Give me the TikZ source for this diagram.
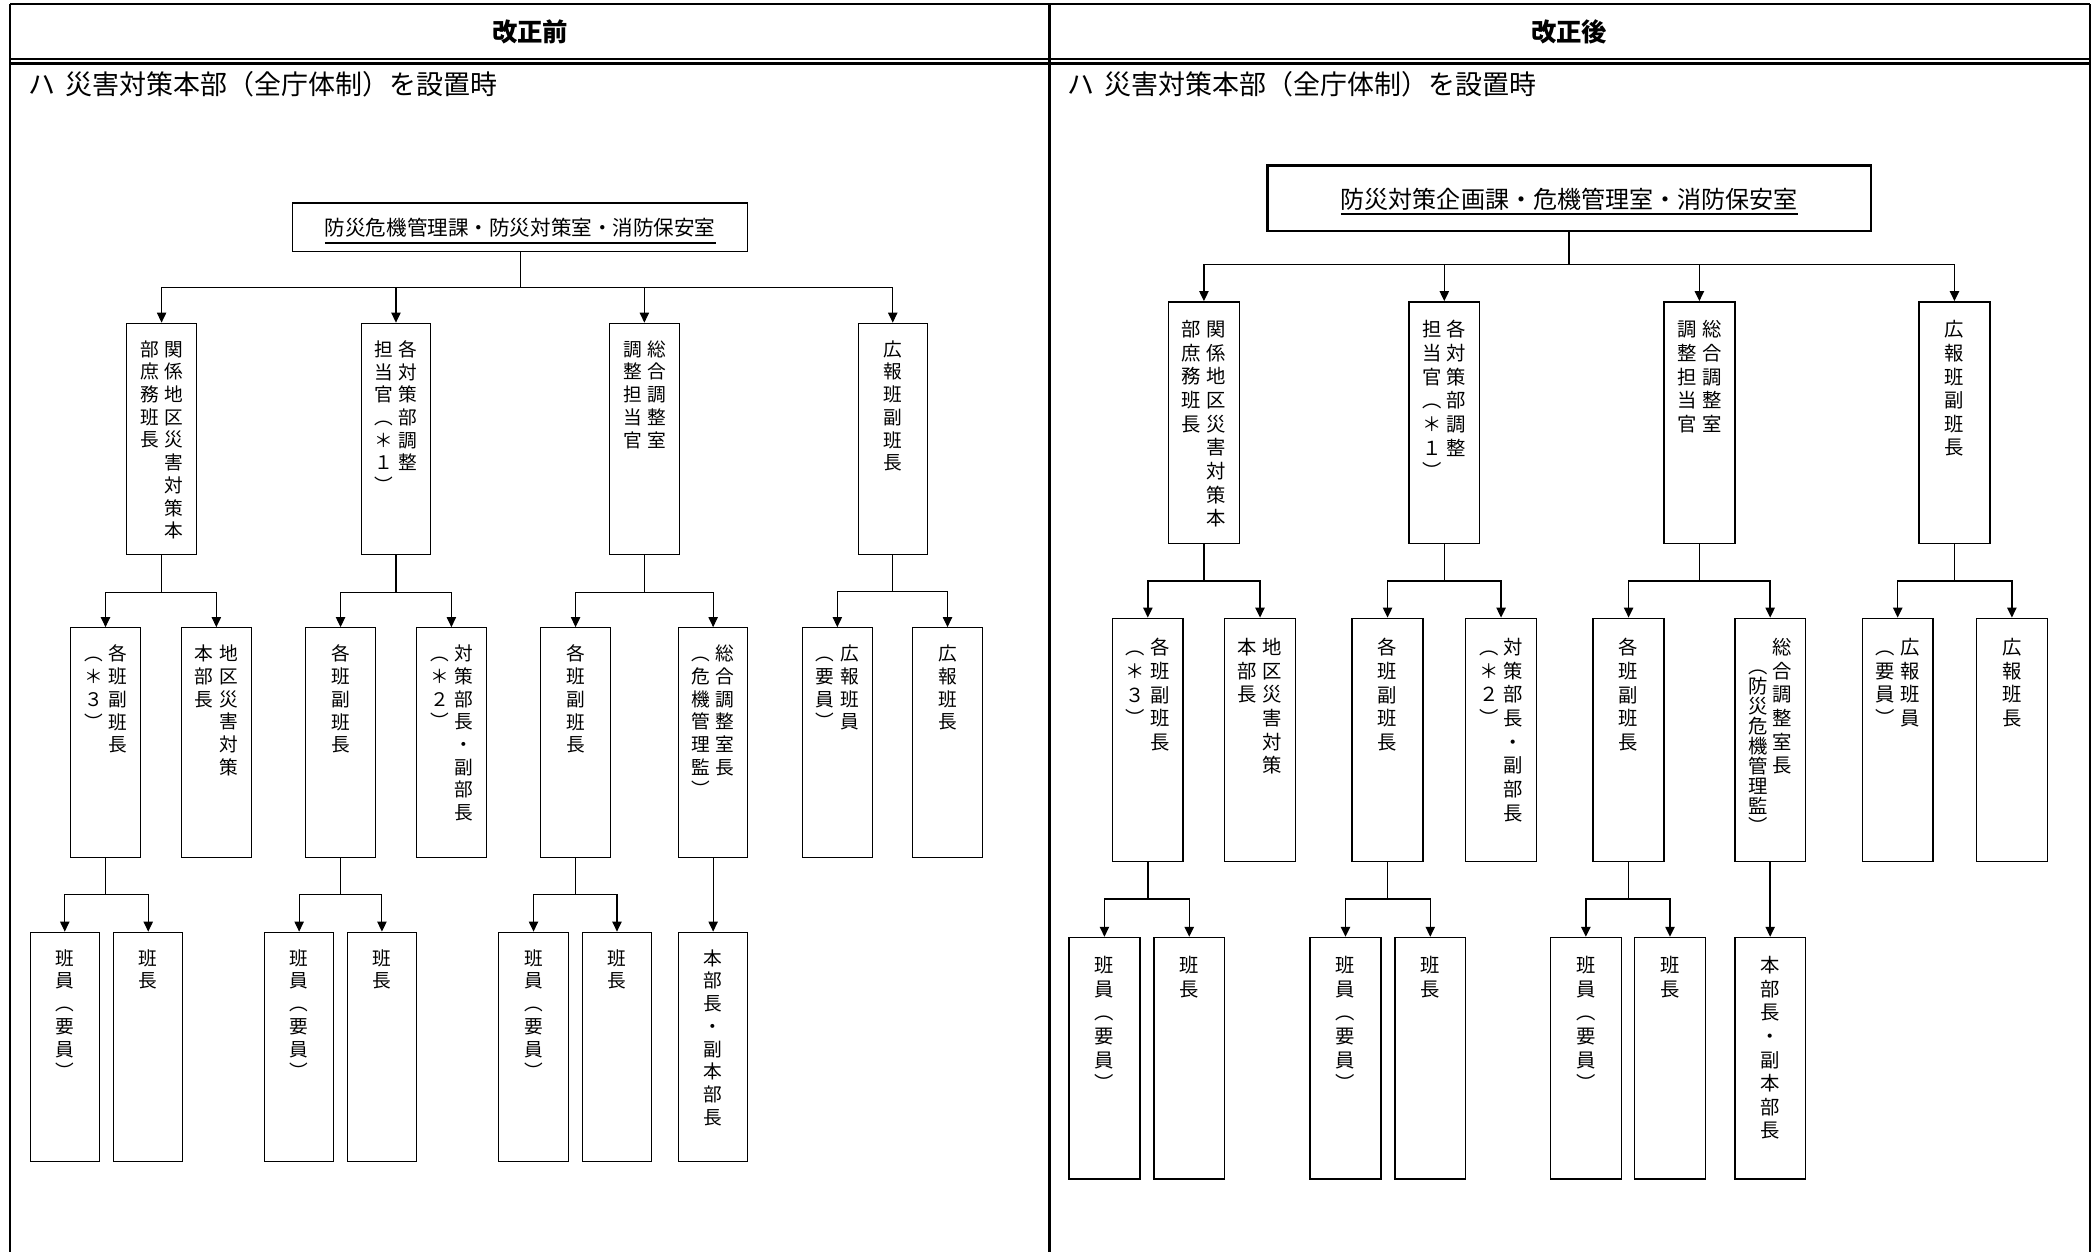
\documentclass[tikz,border=0pt]{standalone}
\usepackage{fontspec}
\setmainfont{Noto Sans CJK JP}
\usetikzlibrary{arrows.meta}
\makeatletter
\newdimen\vpitch \vpitch=17pt
\newdimen\vgap \vgap=4pt
\newcommand\vcol[1]{\vtop{\baselineskip=\vpitch\lineskip=0pt\lineskiplimit=-100pt\@tfor\vch:=#1\do{\hbox to 1em{\hss\vch\hss}}}}
\makeatother
\newcommand\vone[1]{\vcol{#1}}
\newcommand\vtwo[2]{\vcol{#2}\kern\vgap\vcol{#1}}
\newcommand\vtwoalt[2]{\lower14pt\hbox{\vpitch=15pt\vcol{#2}}\kern\vgap\vcol{#1}}
\newcommand\bx[3]{\vbox to #1{\kern#2\hbox{#3}\vss}}
\newcommand\ulbox[4]{\setbox0=\hbox{#4}\vbox{\kern#1\copy0\kern#2\hrule height #3 width \wd0}}
\newcommand\lfont{\fontsize{14pt}{17pt}\selectfont\vpitch=17pt\vgap=4pt}
\newcommand\rfont{\fontsize{14.5pt}{17.7pt}\selectfont\vpitch=17.7pt\vgap=4pt}
\newcommand\branch[4]{%
  \coordinate (#2-bar) at (#2.south |- 0,#3);
  \draw[#1] (#2.south) -- (#2-bar);
  \foreach \k in {#4}{\draw[#1,tip] (#2-bar) -| (\k);}}
\tikzset{
  ln/.style={line width=0.8pt},
  lnR/.style={line width=1.1pt},
  tip/.style={-{Triangle[length=7.5pt,width=7pt]}},
  frame/.style={line width=1.8pt},
  lbox/.style={draw, ln, inner sep=0pt, minimum width=52pt, font=\lfont},
  rbox/.style={draw, lnR, inner sep=0pt, minimum width=53pt, font=\rfont},
  head/.style={font=\bfseries\fontsize{19pt}{19pt}\selectfont, inner sep=0pt},
  sub/.style={font=\fontsize{20.2pt}{21pt}\selectfont, inner sep=0pt, anchor=west},
}
\begin{document}
\begin{tikzpicture}[x=1pt,y=-1pt]
\useasboundingbox (0,0) rectangle (1568,937.5);
% frame
\draw[frame] (7.5,3) -- (1565,3);
\draw[frame] (7.5,44) -- (1565,44);
\draw[frame] (7.5,47.5) -- (1565,47.5);
\draw[frame] (7.5,3) -- (7.5,937.5);
\draw[frame] (786,3) -- (786,937.5);
\draw[frame] (1565,3) -- (1565,937.5);
\node[head] (h1) at (397,24) {改正前};
\node[head] (h2) at (1175,24) {改正後};
\node[sub] (s1) at (21,63) {ハ\hspace{8pt}災害対策本部（全庁体制）を設置時};
\node[sub] (s2) at (799,63) {ハ\hspace{8pt}災害対策本部（全庁体制）を設置時};

% ---------------- left panel ----------------
\node[draw, ln, minimum width=341pt, minimum height=36pt, inner sep=0pt, font=\fontsize{15.4pt}{16pt}\selectfont] (LT) at (389.5,170)
  {\ulbox{6pt}{3pt}{1.5pt}{防災危機管理課・防災対策室・消防保安室}};

\node[lbox] (LA) at (121,328.5)   {\bx{173pt}{13pt}{\vtwo{関係地区災害対策本}{部庶務班長}}};
\node[lbox] (LB) at (296.5,328.5) {\bx{173pt}{13pt}{\vtwo{各対策部調整}{担当官︵＊１︶}}};
\node[lbox] (LC) at (482.5,328.5) {\bx{173pt}{13pt}{\vtwo{総合調整室}{調整担当官}}};
\node[lbox] (LD) at (668.5,328.5) {\bx{173pt}{13pt}{\vone{広報班副班長}}};

\node[lbox] (LA1) at (79,556)    {\bx{172pt}{13pt}{\vtwo{各班副班長}{︵＊３︶}}};
\node[lbox] (LA2) at (162,556)   {\bx{172pt}{13pt}{\vtwo{地区災害対策}{本部長}}};
\node[lbox] (LB1) at (255,556)   {\bx{172pt}{13pt}{\vone{各班副班長}}};
\node[lbox] (LB2) at (338,556)   {\bx{172pt}{13pt}{\vtwo{対策部長・副部長}{︵＊２︶}}};
\node[lbox] (LC1) at (431,556)   {\bx{172pt}{13pt}{\vone{各班副班長}}};
\node[lbox] (LC2) at (534,556)   {\bx{172pt}{13pt}{\vtwo{総合調整室長}{︵危機管理監︶}}};
\node[lbox] (LD1) at (627,556)   {\bx{172pt}{13pt}{\vtwo{広報班員}{︵要員︶}}};
\node[lbox] (LD2) at (709.5,556) {\bx{172pt}{13pt}{\vone{広報班長}}};

\node[lbox] (LA1a) at (48.5,784) {\bx{172pt}{13pt}{\vone{班員︵要員︶}}};
\node[lbox] (LA1b) at (111,784)  {\bx{172pt}{13pt}{\vone{班長}}};
\node[lbox] (LB1a) at (224,784)  {\bx{172pt}{13pt}{\vone{班員︵要員︶}}};
\node[lbox] (LB1b) at (286,784)  {\bx{172pt}{13pt}{\vone{班長}}};
\node[lbox] (LC1a) at (399.5,784){\bx{172pt}{13pt}{\vone{班員︵要員︶}}};
\node[lbox] (LC1b) at (462,784)  {\bx{172pt}{13pt}{\vone{班長}}};
\node[lbox] (LC2a) at (534,784)  {\bx{172pt}{13pt}{\vone{本部長・副本部長}}};

\branch{ln}{LT}{215}{LA,LB,LC,LD}
\branch{ln}{LA}{444}{LA1,LA2}
\branch{ln}{LB}{444}{LB1,LB2}
\branch{ln}{LC}{444}{LC1,LC2}
\branch{ln}{LD}{443}{LD1,LD2}
\branch{ln}{LA1}{670}{LA1a,LA1b}
\branch{ln}{LB1}{670}{LB1a,LB1b}
\branch{ln}{LC1}{670}{LC1a,LC1b}
\draw[ln,tip] (LC2) -- (LC2a);

% ---------------- right panel ----------------
\node[draw, line width=1.8pt, minimum width=452pt, minimum height=49pt, inner sep=0pt, font=\fontsize{18pt}{19pt}\selectfont] (RT) at (1175,148.5)
  {\ulbox{5pt}{1.5pt}{1.5pt}{防災対策企画課・危機管理室・消防保安室}};

\node[rbox] (RA) at (901.5,316.5)  {\bx{181pt}{14pt}{\vtwo{関係地区災害対策本}{部庶務班長}}};
\node[rbox] (RB) at (1081.5,316.5) {\bx{181pt}{14pt}{\vtwo{各対策部調整}{担当官︵＊１︶}}};
\node[rbox] (RC) at (1272.5,316.5) {\bx{181pt}{14pt}{\vtwo{総合調整室}{調整担当官}}};
\node[rbox] (RD) at (1463.5,316.5) {\bx{181pt}{14pt}{\vone{広報班副班長}}};

\node[rbox] (RA1) at (859.5,554)  {\bx{182pt}{15pt}{\vtwo{各班副班長}{︵＊３︶}}};
\node[rbox] (RA2) at (943.5,554)  {\bx{182pt}{15pt}{\vtwo{地区災害対策}{本部長}}};
\node[rbox] (RB1) at (1039,554)   {\bx{182pt}{15pt}{\vone{各班副班長}}};
\node[rbox] (RB2) at (1124,554)   {\bx{182pt}{15pt}{\vtwo{対策部長・副部長}{︵＊２︶}}};
\node[rbox] (RC1) at (1219.5,554) {\bx{182pt}{15pt}{\vone{各班副班長}}};
\node[rbox] (RC2) at (1325.5,554) {\bx{182pt}{15pt}{\vtwoalt{総合調整室長}{︵防災危機管理監︶}}};
\node[rbox] (RD1) at (1421,554)   {\bx{182pt}{15pt}{\vtwo{広報班員}{︵要員︶}}};
\node[rbox] (RD2) at (1506.5,554) {\bx{182pt}{15pt}{\vone{広報班長}}};

\node[rbox] (RA1a) at (827,792.5)    {\bx{181pt}{14pt}{\vone{班員︵要員︶}}};
\node[rbox] (RA1b) at (890.5,792.5)  {\bx{181pt}{14pt}{\vone{班長}}};
\node[rbox] (RB1a) at (1007.5,792.5) {\bx{181pt}{14pt}{\vone{班員︵要員︶}}};
\node[rbox] (RB1b) at (1071,792.5)   {\bx{181pt}{14pt}{\vone{班長}}};
\node[rbox] (RC1a) at (1187.5,792.5) {\bx{181pt}{14pt}{\vone{班員︵要員︶}}};
\node[rbox] (RC1b) at (1250.5,792.5) {\bx{181pt}{14pt}{\vone{班長}}};
\node[rbox] (RC2a) at (1325.5,792.5) {\bx{181pt}{14pt}{\vone{本部長・副本部長}}};

\branch{lnR}{RT}{198}{RA,RB,RC,RD}
\branch{lnR}{RA}{435}{RA1,RA2}
\branch{lnR}{RB}{435}{RB1,RB2}
\branch{lnR}{RC}{435}{RC1,RC2}
\branch{lnR}{RD}{435}{RD1,RD2}
\branch{lnR}{RA1}{673}{RA1a,RA1b}
\branch{lnR}{RB1}{673}{RB1a,RB1b}
\branch{lnR}{RC1}{673}{RC1a,RC1b}
\draw[lnR,tip] (RC2) -- (RC2a);
\end{tikzpicture}
\end{document}
